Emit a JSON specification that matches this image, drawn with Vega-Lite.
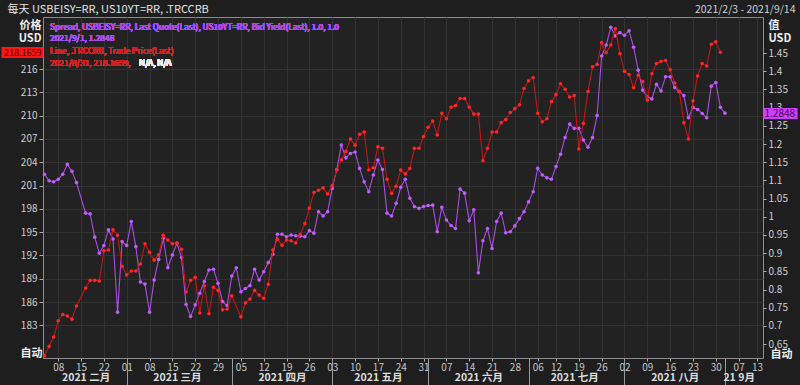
{
  "$schema": "https://vega.github.io/schema/vega-lite/v6.json",
  "width": 720,
  "height": 341,
  "autosize": {"type": "none"},
  "padding": {"left": 43, "top": 17, "right": 37, "bottom": 27},
  "background": "#1e1e1e",
  "config": {
    "view": {"stroke": "#8c8c8c", "fill": "#222222"},
    "font": "Noto Sans CJK SC",
    "axis": {"labelFont": "Noto Sans CJK SC", "titleFont": "Noto Sans CJK SC", "labelColor": "#cfcfcf", "tickColor": "#b0b0b0", "domainColor": "#8c8c8c", "gridColor": "#323232", "labelFontSize": 10}
  },
  "data": {"values": [
    {"d":"2021-02-03","s":1.117,"p":179.1},{"d":"2021-02-04","s":1.099,"p":180.3},{"d":"2021-02-05","s":1.096,"p":181.5},
    {"d":"2021-02-08","s":1.103,"p":183.6},{"d":"2021-02-09","s":1.117,"p":184.4},{"d":"2021-02-10","s":1.144,"p":184.2},{"d":"2021-02-11","s":1.125,"p":183.8},{"d":"2021-02-12","s":1.094,"p":185.5},
    {"d":"2021-02-16","s":1.010,"p":187.8},{"d":"2021-02-17","s":1.008,"p":188.8},{"d":"2021-02-18","s":0.944,"p":188.8},{"d":"2021-02-19","s":0.900,"p":188.7},
    {"d":"2021-02-22","s":0.921,"p":192.6},{"d":"2021-02-23","s":0.964,"p":192.7},{"d":"2021-02-24","s":0.939,"p":195.3},{"d":"2021-02-25","s":0.738,"p":194.6},{"d":"2021-02-26","s":0.932,"p":190.6},
    {"d":"2021-03-01","s":0.921,"p":189.5},{"d":"2021-03-02","s":0.987,"p":190.0},{"d":"2021-03-03","s":0.918,"p":190.0},{"d":"2021-03-04","s":0.821,"p":190.9},{"d":"2021-03-05","s":0.815,"p":193.5},
    {"d":"2021-03-08","s":0.738,"p":192.4},{"d":"2021-03-09","s":0.826,"p":191.4},{"d":"2021-03-10","s":0.883,"p":192.1},{"d":"2021-03-11","s":0.941,"p":194.6},{"d":"2021-03-12","s":0.860,"p":194.0},
    {"d":"2021-03-15","s":0.895,"p":193.5},{"d":"2021-03-16","s":0.927,"p":193.6},{"d":"2021-03-17","s":0.888,"p":192.8},{"d":"2021-03-18","s":0.759,"p":187.3},{"d":"2021-03-19","s":0.726,"p":188.8},
    {"d":"2021-03-22","s":0.758,"p":189.2},{"d":"2021-03-23","s":0.790,"p":184.6},{"d":"2021-03-24","s":0.822,"p":188.1},{"d":"2021-03-25","s":0.854,"p":184.5},{"d":"2021-03-26","s":0.856,"p":187.9},
    {"d":"2021-03-29","s":0.817,"p":187.5},{"d":"2021-03-30","s":0.767,"p":185.0},{"d":"2021-03-31","s":0.756,"p":185.1},{"d":"2021-04-01","s":0.837,"p":186.8},{"d":"2021-04-02","s":0.860,"p":null},
    {"d":"2021-04-05","s":0.794,"p":184.1},{"d":"2021-04-06","s":0.803,"p":185.9},{"d":"2021-04-07","s":0.811,"p":186.4},{"d":"2021-04-08","s":0.856,"p":187.5},{"d":"2021-04-09","s":0.826,"p":186.9},
    {"d":"2021-04-12","s":0.849,"p":186.5},{"d":"2021-04-13","s":0.874,"p":188.3},{"d":"2021-04-14","s":0.897,"p":192.7},{"d":"2021-04-15","s":0.952,"p":194.1},{"d":"2021-04-16","s":0.952,"p":193.3},
    {"d":"2021-04-19","s":0.945,"p":194.0},{"d":"2021-04-20","s":0.950,"p":193.9},{"d":"2021-04-21","s":0.948,"p":193.6},{"d":"2021-04-22","s":0.947,"p":194.7},{"d":"2021-04-23","s":0.945,"p":196.1},
    {"d":"2021-04-26","s":0.962,"p":198.1},{"d":"2021-04-27","s":0.955,"p":200.1},{"d":"2021-04-28","s":1.014,"p":200.4},{"d":"2021-04-29","s":1.002,"p":200.7},{"d":"2021-04-30","s":1.014,"p":199.9},
    {"d":"2021-05-03","s":1.078,"p":201.0},{"d":"2021-05-04","s":1.130,"p":203.0},{"d":"2021-05-05","s":1.197,"p":204.3},{"d":"2021-05-06","s":1.162,"p":205.4},{"d":"2021-05-07","s":1.174,"p":207.0},
    {"d":"2021-05-10","s":1.178,"p":206.2},{"d":"2021-05-11","s":1.133,"p":207.6},{"d":"2021-05-12","s":1.096,"p":207.9},{"d":"2021-05-13","s":1.069,"p":203.0},{"d":"2021-05-14","s":1.115,"p":203.3},
    {"d":"2021-05-17","s":1.156,"p":206.0},{"d":"2021-05-18","s":1.130,"p":205.8},{"d":"2021-05-19","s":1.010,"p":201.8},{"d":"2021-05-20","s":1.002,"p":200.0},{"d":"2021-05-21","s":1.037,"p":200.9},
    {"d":"2021-05-24","s":1.081,"p":203.0},{"d":"2021-05-25","s":1.103,"p":202.5},{"d":"2021-05-26","s":1.051,"p":203.2},{"d":"2021-05-27","s":1.028,"p":205.8},{"d":"2021-05-28","s":1.023,"p":205.8},
    {"d":"2021-05-31","s":1.028,"p":207.3},{"d":"2021-06-01","s":1.031,"p":208.5},{"d":"2021-06-02","s":1.032,"p":209.3},{"d":"2021-06-03","s":0.959,"p":207.5},{"d":"2021-06-04","s":1.026,"p":210.3},
    {"d":"2021-06-07","s":0.991,"p":209.6},{"d":"2021-06-08","s":0.976,"p":211.1},{"d":"2021-06-09","s":0.968,"p":211.3},{"d":"2021-06-10","s":1.076,"p":212.2},{"d":"2021-06-11","s":1.065,"p":212.2},
    {"d":"2021-06-14","s":0.989,"p":211.1},{"d":"2021-06-15","s":1.019,"p":210.2},{"d":"2021-06-16","s":0.846,"p":210.2},{"d":"2021-06-17","s":0.934,"p":204.2},{"d":"2021-06-18","s":0.968,"p":205.8},
    {"d":"2021-06-21","s":0.913,"p":207.9},{"d":"2021-06-22","s":0.987,"p":207.9},{"d":"2021-06-23","s":1.010,"p":209.1},{"d":"2021-06-24","s":0.956,"p":209.5},{"d":"2021-06-25","s":0.959,"p":210.4},
    {"d":"2021-06-28","s":0.975,"p":210.9},{"d":"2021-06-29","s":0.995,"p":211.4},{"d":"2021-06-30","s":1.014,"p":213.5},{"d":"2021-07-01","s":1.041,"p":214.5},{"d":"2021-07-02","s":1.069,"p":214.9},
    {"d":"2021-07-06","s":1.133,"p":210.3},{"d":"2021-07-07","s":1.115,"p":209.2},{"d":"2021-07-08","s":1.107,"p":209.6},{"d":"2021-07-09","s":1.103,"p":211.8},
    {"d":"2021-07-12","s":1.138,"p":212.7},{"d":"2021-07-13","s":1.172,"p":214.1},{"d":"2021-07-14","s":1.218,"p":213.4},{"d":"2021-07-15","s":1.255,"p":212.4},{"d":"2021-07-16","s":1.243,"p":212.6},
    {"d":"2021-07-19","s":1.243,"p":205.7},{"d":"2021-07-20","s":1.211,"p":209.0},{"d":"2021-07-21","s":1.191,"p":213.1},{"d":"2021-07-22","s":1.218,"p":216.3},{"d":"2021-07-23","s":1.278,"p":216.6},
    {"d":"2021-07-26","s":1.442,"p":219.4},{"d":"2021-07-27","s":1.472,"p":218.1},{"d":"2021-07-28","s":1.521,"p":219.1},{"d":"2021-07-29","s":1.497,"p":221.2},{"d":"2021-07-30","s":1.506,"p":218.0},
    {"d":"2021-08-02","s":1.499,"p":215.7},{"d":"2021-08-03","s":1.511,"p":215.3},{"d":"2021-08-04","s":1.466,"p":213.6},{"d":"2021-08-05","s":1.403,"p":215.2},{"d":"2021-08-06","s":1.348,"p":214.4},
    {"d":"2021-08-09","s":1.330,"p":212.0},{"d":"2021-08-10","s":1.324,"p":215.4},{"d":"2021-08-11","s":1.364,"p":216.7},{"d":"2021-08-12","s":1.346,"p":217.0},{"d":"2021-08-13","s":1.385,"p":217.1},
    {"d":"2021-08-16","s":1.385,"p":215.9},{"d":"2021-08-17","s":1.355,"p":214.2},{"d":"2021-08-18","s":1.344,"p":213.1},{"d":"2021-08-19","s":1.333,"p":209.1},{"d":"2021-08-20","s":1.272,"p":207.0},
    {"d":"2021-08-23","s":1.301,"p":211.9},{"d":"2021-08-24","s":1.295,"p":215.1},{"d":"2021-08-25","s":1.284,"p":216.7},{"d":"2021-08-26","s":1.272,"p":216.4},{"d":"2021-08-27","s":1.359,"p":219.2},
    {"d":"2021-08-30","s":1.369,"p":219.5},{"d":"2021-08-31","s":1.301,"p":218.1659},{"d":"2021-09-01","s":1.2848,"p":null}
  ]},
  "resolve": {"scale": {"y": "independent"}, "axis": {"x": "independent", "y": "independent"}},
  "layer": [
    {
      "mark": {"type": "line", "color": "#a94ee6", "strokeWidth": 1.1, "invalid": "filter", "point": {"filled": true, "size": 13, "color": "#c25cff"}},
      "encoding": {
        "x": {"field": "d", "type": "ordinal",
          "scale": {"type": "point", "padding": 0.33, "domain": ["2021-02-03","2021-02-04","2021-02-05","2021-02-08","2021-02-09","2021-02-10","2021-02-11","2021-02-12","2021-02-15","2021-02-16","2021-02-17","2021-02-18","2021-02-19","2021-02-22","2021-02-23","2021-02-24","2021-02-25","2021-02-26","2021-03-01","2021-03-02","2021-03-03","2021-03-04","2021-03-05","2021-03-08","2021-03-09","2021-03-10","2021-03-11","2021-03-12","2021-03-15","2021-03-16","2021-03-17","2021-03-18","2021-03-19","2021-03-22","2021-03-23","2021-03-24","2021-03-25","2021-03-26","2021-03-29","2021-03-30","2021-03-31","2021-04-01","2021-04-02","2021-04-05","2021-04-06","2021-04-07","2021-04-08","2021-04-09","2021-04-12","2021-04-13","2021-04-14","2021-04-15","2021-04-16","2021-04-19","2021-04-20","2021-04-21","2021-04-22","2021-04-23","2021-04-26","2021-04-27","2021-04-28","2021-04-29","2021-04-30","2021-05-03","2021-05-04","2021-05-05","2021-05-06","2021-05-07","2021-05-10","2021-05-11","2021-05-12","2021-05-13","2021-05-14","2021-05-17","2021-05-18","2021-05-19","2021-05-20","2021-05-21","2021-05-24","2021-05-25","2021-05-26","2021-05-27","2021-05-28","2021-05-31","2021-06-01","2021-06-02","2021-06-03","2021-06-04","2021-06-07","2021-06-08","2021-06-09","2021-06-10","2021-06-11","2021-06-14","2021-06-15","2021-06-16","2021-06-17","2021-06-18","2021-06-21","2021-06-22","2021-06-23","2021-06-24","2021-06-25","2021-06-28","2021-06-29","2021-06-30","2021-07-01","2021-07-02","2021-07-06","2021-07-07","2021-07-08","2021-07-09","2021-07-12","2021-07-13","2021-07-14","2021-07-15","2021-07-16","2021-07-19","2021-07-20","2021-07-21","2021-07-22","2021-07-23","2021-07-26","2021-07-27","2021-07-28","2021-07-29","2021-07-30","2021-08-02","2021-08-03","2021-08-04","2021-08-05","2021-08-06","2021-08-09","2021-08-10","2021-08-11","2021-08-12","2021-08-13","2021-08-16","2021-08-17","2021-08-18","2021-08-19","2021-08-20","2021-08-23","2021-08-24","2021-08-25","2021-08-26","2021-08-27","2021-08-30","2021-08-31","2021-09-01","2021-09-02","2021-09-03","2021-09-07","2021-09-08","2021-09-09","2021-09-10","2021-09-13","2021-09-14"]},
          "axis": {"orient": "bottom", "title": null, "labelAngle": 0, "grid": true, "domain": false, "tickSize": 3, "labelPadding": 1, "labelFontSize": 10, "labelColor": "#c8c8c8",
            "values": ["2021-02-08","2021-02-15","2021-02-22","2021-03-01","2021-03-08","2021-03-15","2021-03-22","2021-03-29","2021-04-05","2021-04-12","2021-04-19","2021-04-26","2021-05-03","2021-05-10","2021-05-17","2021-05-24","2021-05-31","2021-06-07","2021-06-14","2021-06-21","2021-06-28","2021-07-06","2021-07-12","2021-07-19","2021-07-26","2021-08-02","2021-08-09","2021-08-16","2021-08-23","2021-08-30","2021-09-07","2021-09-13"],
            "labelExpr": "slice(datum.value, 8, 10)"}},
        "y": {"field": "s", "type": "quantitative",
          "scale": {"domain": [0.612, 1.549], "nice": false, "zero": false},
          "axis": {"orient": "right", "values": [0.65,0.7,0.75,0.8,0.85,0.9,0.95,1,1.05,1.1,1.15,1.2,1.25,1.3,1.35,1.4,1.45], "format": "~g", "grid": false, "domain": false, "tickSize": 3, "labelPadding": 2,
            "title": ["值", "USD"], "titleAngle": 0, "titleAlign": "left", "titleBaseline": "top", "titleX": 5, "titleY": 2, "titleFontSize": 11, "titleFontWeight": "bold", "titleColor": "#eeeeee", "titleLineHeight": 13}}
      }
    },
    {
      "mark": {"type": "line", "color": "#c81414", "strokeWidth": 1.1, "invalid": "filter", "point": {"filled": true, "size": 13, "color": "#ff2626"}},
      "encoding": {
        "x": {"field": "d", "type": "ordinal",
          "axis": {"orient": "bottom", "title": null, "labelAngle": 0, "grid": false, "domain": false, "tickSize": 27, "tickColor": "#9a9a9a", "labelPadding": -13, "labelBaseline": "top", "labelFontSize": 10.5, "labelFontWeight": "bold", "labelColor": "#dddddd",
            "values": ["2021-02-16","2021-03-01","2021-03-16","2021-04-01","2021-04-16","2021-05-03","2021-05-17","2021-06-01","2021-06-16","2021-07-01","2021-07-16","2021-08-02","2021-08-17","2021-09-01","2021-09-07"],
            "tickOpacity": {"condition": {"test": "indexof(['2021-03-01','2021-04-01','2021-05-03','2021-06-01','2021-07-01','2021-08-02','2021-09-01'], datum.value) >= 0", "value": 1}, "value": 0},
            "labelExpr": "datum.value == '2021-02-16' ? '2021 二月' : datum.value == '2021-03-16' ? '2021 三月' : datum.value == '2021-04-16' ? '2021 四月' : datum.value == '2021-05-17' ? '2021 五月' : datum.value == '2021-06-16' ? '2021 六月' : datum.value == '2021-07-16' ? '2021 七月' : datum.value == '2021-08-17' ? '2021 八月' : datum.value == '2021-09-07' ? '21 9月' : ''"}},
        "y": {"field": "p", "type": "quantitative",
          "scale": {"domain": [178.8, 222.7], "nice": false, "zero": false},
          "axis": {"orient": "left", "values": [183,186,189,192,195,198,201,204,207,210,213,216], "grid": true, "domain": false, "tickSize": 4, "labelPadding": 2,
            "title": ["价格", "USD"], "titleAngle": 0, "titleAlign": "right", "titleBaseline": "top", "titleX": -2, "titleY": 2, "titleFontSize": 11, "titleFontWeight": "bold", "titleColor": "#eeeeee", "titleLineHeight": 13}}
      }
    },
    {
      "mark": {"type": "text", "text": ""},
      "encoding": {
        "x": {"datum": "2021-02-04", "type": "ordinal",
          "axis": {"orient": "top", "labels": false, "ticks": false, "domain": false, "grid": false, "title": "每天 USBEISY=RR, US10YT=RR, .TRCCRB", "titleAnchor": "start", "titleX": -36, "titleY": -3, "titleAlign": "left", "titleBaseline": "bottom", "titleFontSize": 11, "titleFontWeight": "normal", "titleColor": "#e6e6e6"}},
        "y": {"datum": 218.1659, "type": "quantitative",
          "scale": {"domain": [178.8, 222.7], "nice": false, "zero": false},
          "axis": {"orient": "left", "values": [218.1659], "format": ".4f", "grid": false, "domain": false, "tickSize": 42, "tickWidth": 11, "tickColor": "#ff1414", "tickCap": "butt", "labelPadding": -40, "labelColor": "#4a0000", "labelFontSize": 9,
            "title": "自动", "titleAngle": 0, "titleAlign": "left", "titleBaseline": "top", "titleX": -23, "titleY": 330, "titleFontSize": 11, "titleFontWeight": "bold", "titleColor": "#eeeeee"}}
      }
    },
    {
      "mark": {"type": "text", "text": ""},
      "encoding": {
        "x": {"datum": "2021-02-04", "type": "ordinal",
          "axis": {"orient": "top", "labels": false, "ticks": false, "domain": false, "grid": false, "title": "2021/2/3 - 2021/9/14", "titleAnchor": "end", "titleX": 752, "titleY": -3, "titleAlign": "right", "titleBaseline": "bottom", "titleFontSize": 10.5, "titleFontWeight": "normal", "titleColor": "#d0d0d0"}},
        "y": {"datum": 1.2848, "type": "quantitative",
          "scale": {"domain": [0.612, 1.549], "nice": false, "zero": false},
          "axis": {"orient": "right", "values": [1.2848], "format": ".4f", "grid": false, "domain": false, "tickSize": 34, "tickWidth": 11, "tickColor": "#d23cff", "tickCap": "butt", "labelPadding": -33, "labelAlign": "left", "labelColor": "#3b0a4f", "labelFontSize": 10,
            "title": "自动", "titleAngle": 0, "titleAlign": "left", "titleBaseline": "top", "titleX": 7, "titleY": 331, "titleFontSize": 11, "titleFontWeight": "bold", "titleColor": "#eeeeee"}}
      }
    },
    {
      "layer": [
        {
          "mark": {"type": "text", "text": "Spread, USBEISY=RR, Last Quote(Last), US10YT=RR, Bid Yield(Last),  1.0, 1.0", "align": "left", "baseline": "middle", "dx": 1, "fontSize": 8.4, "color": "#a84ee0"},
          "encoding": {
            "x": {"datum": "2021-02-04", "type": "ordinal", "axis": null},
            "y": {"datum": 0.9716, "type": "quantitative", "scale": {"domain": [0, 1], "nice": false, "zero": false}, "axis": null}
          }
        },
        {
          "mark": {"type": "text", "text": "2021/9/1, 1.2848", "align": "left", "baseline": "middle", "dx": 1, "fontSize": 8.4, "color": "#a84ee0"},
          "encoding": {
            "x": {"datum": "2021-02-04", "type": "ordinal", "axis": null},
            "y": {"datum": 0.9375, "type": "quantitative", "axis": null}
          }
        },
        {
          "mark": {"type": "text", "text": "Line, .TRCCRB, Trade Price(Last)", "align": "left", "baseline": "middle", "dx": 1, "fontSize": 8.4, "color": "#d42020"},
          "encoding": {
            "x": {"datum": "2021-02-04", "type": "ordinal", "axis": null},
            "y": {"datum": 0.9003, "type": "quantitative", "axis": null}
          }
        },
        {
          "mark": {"type": "text", "text": "2021/8/31, 218.1659,", "align": "left", "baseline": "middle", "dx": 1, "fontSize": 8.4, "color": "#d42020"},
          "encoding": {
            "x": {"datum": "2021-02-04", "type": "ordinal", "axis": null},
            "y": {"datum": 0.866, "type": "quantitative", "axis": null}
          }
        },
        {
          "mark": {"type": "text", "text": "N/A, N/A", "align": "left", "baseline": "middle", "dx": 90, "fontSize": 8.4, "color": "#f0f0f0"},
          "encoding": {
            "x": {"datum": "2021-02-04", "type": "ordinal", "axis": null},
            "y": {"datum": 0.866, "type": "quantitative", "axis": null}
          }
        }
      ]
    }
  ]
}
